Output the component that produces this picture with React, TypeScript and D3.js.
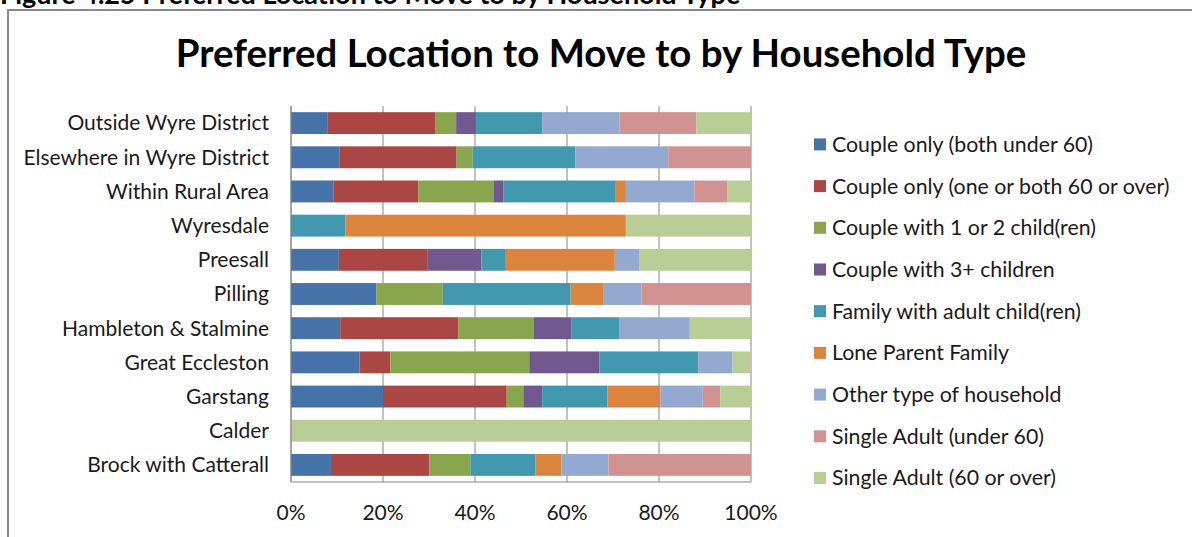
import React from "react";
import * as d3 from "d3";

const categories = [
  "Outside Wyre District",
  "Elsewhere in Wyre District",
  "Within Rural Area",
  "Wyresdale",
  "Preesall",
  "Pilling",
  "Hambleton & Stalmine",
  "Great Eccleston",
  "Garstang",
  "Calder",
  "Brock with Catterall",
];

const seriesNames = [
  "Couple only (both under 60)",
  "Couple only (one or both 60 or over)",
  "Couple with 1 or 2 child(ren)",
  "Couple with 3+ children",
  "Family with adult child(ren)",
  "Lone Parent Family",
  "Other type of household",
  "Single Adult (under 60)",
  "Single Adult (60 or over)",
];

const coupleUnder60 = [8.0, 10.6, 9.2, 0, 10.4, 18.6, 10.7, 14.9, 20.0, 0, 8.7];
const couple60Plus = [23.3, 25.4, 18.5, 0, 19.2, 0, 25.7, 6.7, 26.9, 0, 21.4];
const coupleWith12 = [4.6, 3.5, 16.3, 0, 0, 14.4, 16.3, 30.2, 3.6, 0, 8.9];
const coupleWith3Plus = [4.3, 0, 2.2, 0, 11.8, 0, 8.2, 15.2, 4.1, 0, 0];
const familyAdult = [14.4, 22.3, 24.4, 11.8, 5.3, 27.8, 10.4, 21.5, 14.2, 0, 14.1];
const loneParent = [0, 0, 2.2, 61.0, 23.7, 7.2, 0, 0, 11.5, 0, 5.7];
const otherType = [16.8, 20.2, 14.9, 0, 5.4, 8.2, 15.4, 7.5, 9.2, 0, 10.2];
const singleUnder60 = [16.7, 18.0, 7.2, 0, 0, 23.8, 0, 0, 3.8, 0, 31.0];
const single60Plus = [12.0, 0, 5.1, 27.2, 24.2, 0, 13.4, 3.8, 6.7, 100, 0];

const seriesValues = [
  coupleUnder60,
  couple60Plus,
  coupleWith12,
  coupleWith3Plus,
  familyAdult,
  loneParent,
  otherType,
  singleUnder60,
  single60Plus,
];

const colors = [
  "#4572A7",
  "#AA4643",
  "#89A54E",
  "#71588F",
  "#4198AF",
  "#DB843D",
  "#93A9CF",
  "#D19392",
  "#B9CD96",
];

const xTicks = [0, 20, 40, 60, 80, 100];

const FONT = "Lato, 'Open Sans', sans-serif";

export default function App() {
  const W = 1192;
  const H = 537;
  const x = d3.scaleLinear().domain([0, 100]).range([291, 751]);
  const y = d3
    .scaleBand<string>()
    .domain(categories)
    .range([106, 482])
    .paddingInner(0.36)
    .paddingOuter(0.18);

  const table = categories.map((c, i) => {
    const row: Record<string, any> = { cat: c };
    seriesNames.forEach((s, j) => (row[s] = seriesValues[j][i]));
    return row;
  });
  const stacked = d3.stack<any>().keys(seriesNames)(table);

  const legendY = d3
    .scalePoint<string>()
    .domain(seriesNames)
    .range([144.4, 478]);

  return (
    <svg
      width={W}
      height={H}
      style={{ position: "absolute", left: 0, top: 0, background: "#fff" }}
      fontFamily={FONT}
    >
      <rect x={0} y={0} width={W} height={H} fill="#fff" />
      <text x={0} y={4} fontSize={27} fontWeight="bold" fill="#000">
        Figure 4.25 Preferred Location to Move to by Household Type
      </text>
      <rect
        x={8}
        y={10}
        width={1300}
        height={700}
        fill="#fff"
        stroke="#898989"
        strokeWidth={2}
      />
      <text
        x={601}
        y={67}
        textAnchor="middle"
        fontSize={38.4}
        fontWeight="bold"
        fill="#000"
      >
        Preferred Location to Move to by Household Type
      </text>

      {xTicks.map((t) => (
        <line
          key={t}
          x1={x(t)}
          x2={x(t)}
          y1={106}
          y2={482}
          stroke="#868686"
          strokeWidth={1}
        />
      ))}

      {stacked.map((layer, j) => (
        <g key={layer.key} fill={colors[j]}>
          {layer.map((d, i) => {
            const w = x(d[1]) - x(d[0]);
            if (w <= 0) return null;
            return (
              <rect
                key={i}
                x={x(d[0])}
                y={y(categories[i])}
                width={w}
                height={y.bandwidth()}
              />
            );
          })}
        </g>
      ))}

      <line x1={291} x2={291} y1={106} y2={482} stroke="#868686" />
      <line x1={291} x2={751} y1={482} y2={482} stroke="#868686" />

      {categories.map((c) => (
        <text
          key={c}
          x={269}
          y={(y(c) as number) + y.bandwidth() / 2}
          dy="0.35em"
          textAnchor="end"
          fontSize={21}
          fill="#1a1a1a"
        >
          {c}
        </text>
      ))}

      {xTicks.map((t) => (
        <text
          key={t}
          x={x(t)}
          y={513}
          dy="0.35em"
          textAnchor="middle"
          fontSize={21}
          fill="#1a1a1a"
        >
          {t}%
        </text>
      ))}

      {seriesNames.map((s, j) => (
        <g key={s}>
          <rect
            x={814}
            y={(legendY(s) as number) - 6}
            width={12}
            height={12}
            fill={colors[j]}
          />
          <text
            x={832}
            y={legendY(s) as number}
            dy="0.35em"
            fontSize={21.3}
            fill="#1a1a1a"
          >
            {s}
          </text>
        </g>
      ))}
    </svg>
  );
}
